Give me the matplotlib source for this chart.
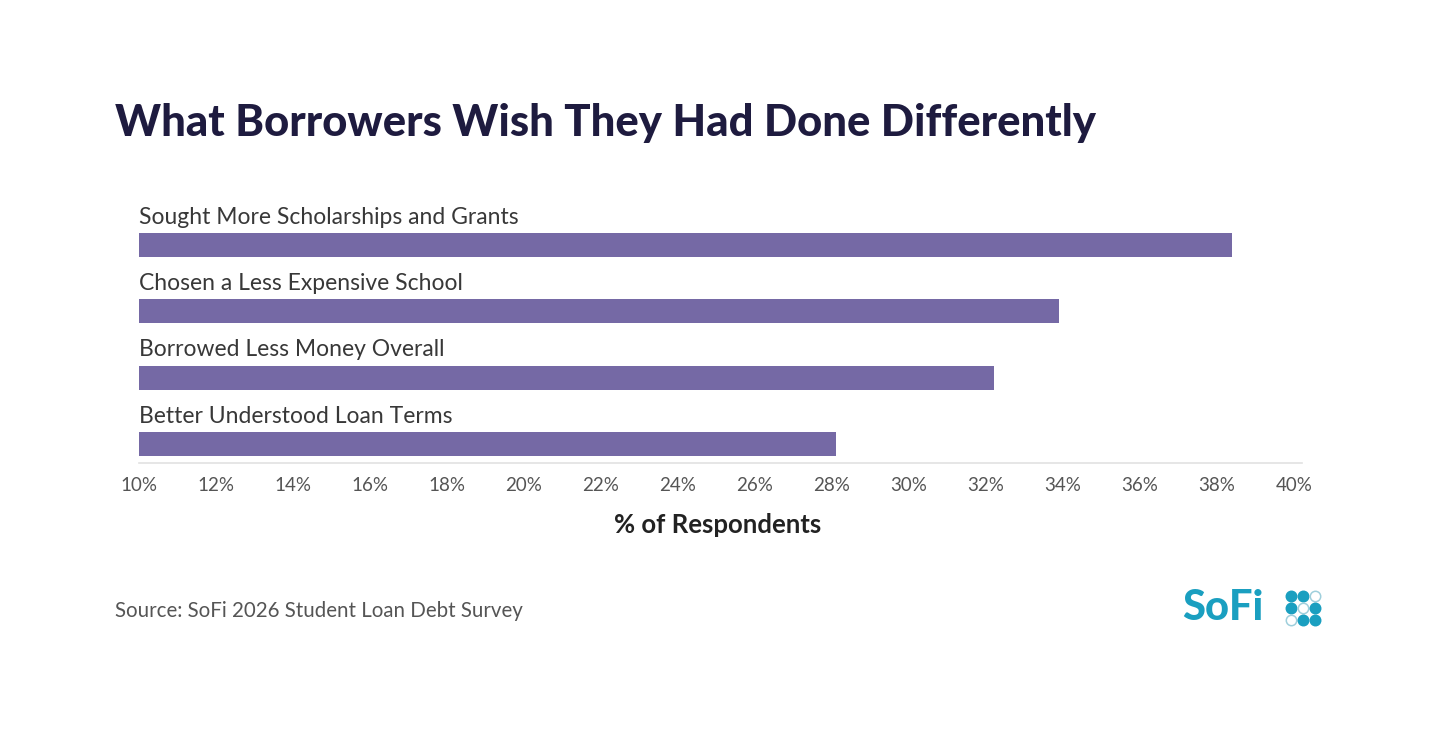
import matplotlib.pyplot as plt

plt.rcParams['font.family'] = ['Lato', 'DejaVu Sans']

categories = [
    "Sought More Scholarships and Grants",
    "Chosen a Less Expensive School",
    "Borrowed Less Money Overall",
    "Better Understood Loan Terms",
]
values = [38.4, 33.9, 32.2, 28.1]
xticks = list(range(10, 41, 2))
xtick_labels = [f"{t}%" for t in xticks]

bar_color = "#7569a5"
title_color = "#1e1b3f"

fig = plt.figure(figsize=(14.4, 7.33), dpi=100)
ax = fig.add_axes([139 / 1440, 1 - 463 / 733, (1294 - 139) / 1440, 258 / 733])

pos = list(range(len(categories)))
ax.barh(pos, [v - 10 for v in values], left=10, height=0.36, color=bar_color)

for i, lab in enumerate(categories):
    ax.text(10, i - 0.42, lab, ha="left", va="center", fontsize=16.5,
            color="#383838")

ax.set_xlim(10, 40)
ax.set_ylim(3.287, -0.603)
ax.set_xticks(xticks)
ax.set_xticklabels(xtick_labels, fontsize=13.5, color="#555555")
ax.set_yticks([])
ax.tick_params(axis="x", length=0, pad=10)
for s in ["top", "right", "left"]:
    ax.spines[s].set_visible(False)
ax.spines["bottom"].set_color("#e2e2e2")
ax.spines["bottom"].set_linewidth(1.2)
ax.spines["bottom"].set_bounds(10, 40.2)

fig.text(718 / 1440, 1 - 525 / 733, "% of Respondents", ha="center", va="center",
         fontsize=18.5, fontweight="bold", color="#222222")

fig.text(115 / 1440, 1 - 123 / 733, "What Borrowers Wish They Had Done Differently",
         ha="left", va="center", fontsize=31.4, fontweight="black", color=title_color)

fig.text(115 / 1440, 1 - 611 / 733, "Source: SoFi 2026 Student Loan Debt Survey",
         ha="left", va="center", fontsize=14.8, color="#555555")

# SoFi logo
fig.text(1182 / 1440, 1 - 608 / 733, "SoFi", ha="left", va="center",
         fontsize=30, fontweight="black", color="#1a9fc0")
dots = [
    (0, 0, True), (1, 0, True), (2, 0, False),
    (0, 1, True), (1, 1, False), (2, 1, True),
    (0, 2, False), (1, 2, True), (2, 2, True),
]
for cx, cy, filled in dots:
    fx = (1291 + cx * 12) / 1440
    fy = 1 - (596 + cy * 12) / 733
    fig.lines.append(plt.Line2D([fx], [fy], transform=fig.transFigure, marker="o",
                                markersize=7.5, markeredgewidth=1.1,
                                markerfacecolor="#1a9fc0" if filled else "none",
                                markeredgecolor="#1a9fc0" if filled else "#9fcfdc"))

fig.savefig("out.png", dpi=100, facecolor="white")
